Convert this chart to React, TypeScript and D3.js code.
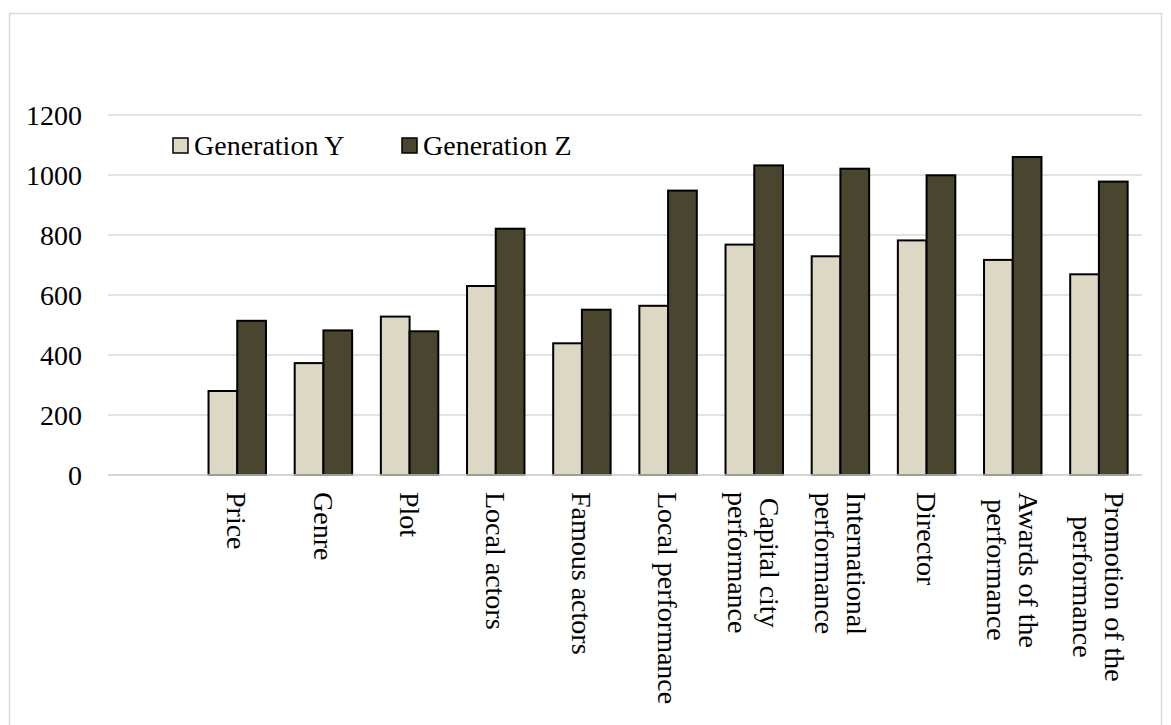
import React, { useEffect, useRef } from "react";
import * as d3 from "d3";

const categories: string[] = [
  "",
  "Price",
  "Genre",
  "Plot",
  "Local actors",
  "Famous actors",
  "Local performance",
  "Capital city\nperformance",
  "International\nperformance",
  "Director",
  "Awards of the\nperformance",
  "Promotion of the\nperformance",
];
const genY: (number | null)[] = [null, 280, 373, 528, 630, 439, 564, 768, 729, 782, 717, 669];
const genZ: (number | null)[] = [null, 514, 482, 479, 821, 551, 948, 1032, 1021, 999, 1060, 978];
const seriesNames = ["Generation Y", "Generation Z"];
const yTicks = [0, 200, 400, 600, 800, 1000, 1200];

const COLORS = ["#DDD8C3", "#4A452E"];
const FONT = "'Liberation Serif', 'Times New Roman', serif";

export default function App() {
  const ref = useRef<SVGSVGElement | null>(null);

  useEffect(() => {
    const svg = d3.select(ref.current);
    svg.selectAll("*").remove();

    const left = 108, right = 1142, top = 115, bottom = 475;

    svg.append("rect")
      .attr("x", 9.5).attr("y", 13.5).attr("width", 1152).attr("height", 730)
      .attr("fill", "#fff").attr("stroke", "#D9D9D9").attr("stroke-width", 1.5);

    const x = d3.scaleBand<string>()
      .domain(categories.map((_, i) => String(i)))
      .range([left, right])
      .paddingInner(1 / 3)
      .paddingOuter(1 / 6);
    const xSub = d3.scaleBand<string>().domain(["0", "1"]).range([0, x.bandwidth()]);
    const y = d3.scaleLinear().domain([0, 1200]).range([bottom, top]);

    // gridlines
    svg.append("g").selectAll("line").data(yTicks).join("line")
      .attr("x1", left).attr("x2", right)
      .attr("y1", (d) => y(d)).attr("y2", (d) => y(d))
      .attr("stroke", "#D9D9D9").attr("stroke-width", 1.5);

    // y labels
    svg.append("g").selectAll("text").data(yTicks).join("text")
      .attr("x", 82).attr("y", (d) => y(d)).attr("dy", "0.35em")
      .attr("text-anchor", "end")
      .attr("font-family", FONT).attr("font-size", 28).attr("fill", "#000")
      .text((d) => String(d));

    // bars
    const series = [genY, genZ];
    series.forEach((vals, si) => {
      svg.append("g").selectAll("rect")
        .data(vals.map((v, i) => ({ v, i })).filter((d) => d.v !== null))
        .join("rect")
        .attr("x", (d) => (x(String(d.i)) as number) + (xSub(String(si)) as number))
        .attr("width", xSub.bandwidth())
        .attr("y", (d) => y(d.v as number))
        .attr("height", (d) => bottom - y(d.v as number))
        .attr("fill", COLORS[si])
        .attr("stroke", "#000").attr("stroke-width", 2);
    });

    // axis baseline
    svg.append("line")
      .attr("x1", left).attr("x2", right).attr("y1", bottom).attr("y2", bottom)
      .attr("stroke", "#D0D0D0").attr("stroke-width", 1.5);

    // x labels (rotated 90°)
    const lineH = 32;
    categories.forEach((c, i) => {
      if (!c) return;
      const lines = c.split("\n");
      const cx = (x(String(i)) as number) + x.bandwidth() / 2;
      const g = svg.append("g").attr("transform", `translate(${cx},492) rotate(90)`);
      const texts = lines.map((ln, li) =>
        g.append("text")
          .attr("font-family", FONT).attr("font-size", 28).attr("fill", "#000")
          .attr("text-anchor", "middle")
          .attr("y", (li - (lines.length - 1) / 2) * lineH)
          .attr("dy", "0.35em")
          .text(ln)
      );
      const maxW = d3.max(texts, (t) => (t.node() as SVGTextElement).getComputedTextLength()) || 0;
      texts.forEach((t) => t.attr("x", maxW / 2));
    });

    // legend
    const legendX = [173, 402];
    seriesNames.forEach((name, si) => {
      svg.append("rect")
        .attr("x", legendX[si]).attr("y", 138).attr("width", 15).attr("height", 15)
        .attr("fill", COLORS[si]).attr("stroke", "#000").attr("stroke-width", 1.5);
      svg.append("text")
        .attr("x", legendX[si] + 21).attr("y", 155)
        .attr("font-family", FONT).attr("font-size", 28).attr("fill", "#000")
        .text(name);
    });
  }, []);

  return (
    <svg
      ref={ref}
      width={1171}
      height={725}
      style={{ position: "absolute", left: 0, top: 0, background: "#fff" }}
    />
  );
}
